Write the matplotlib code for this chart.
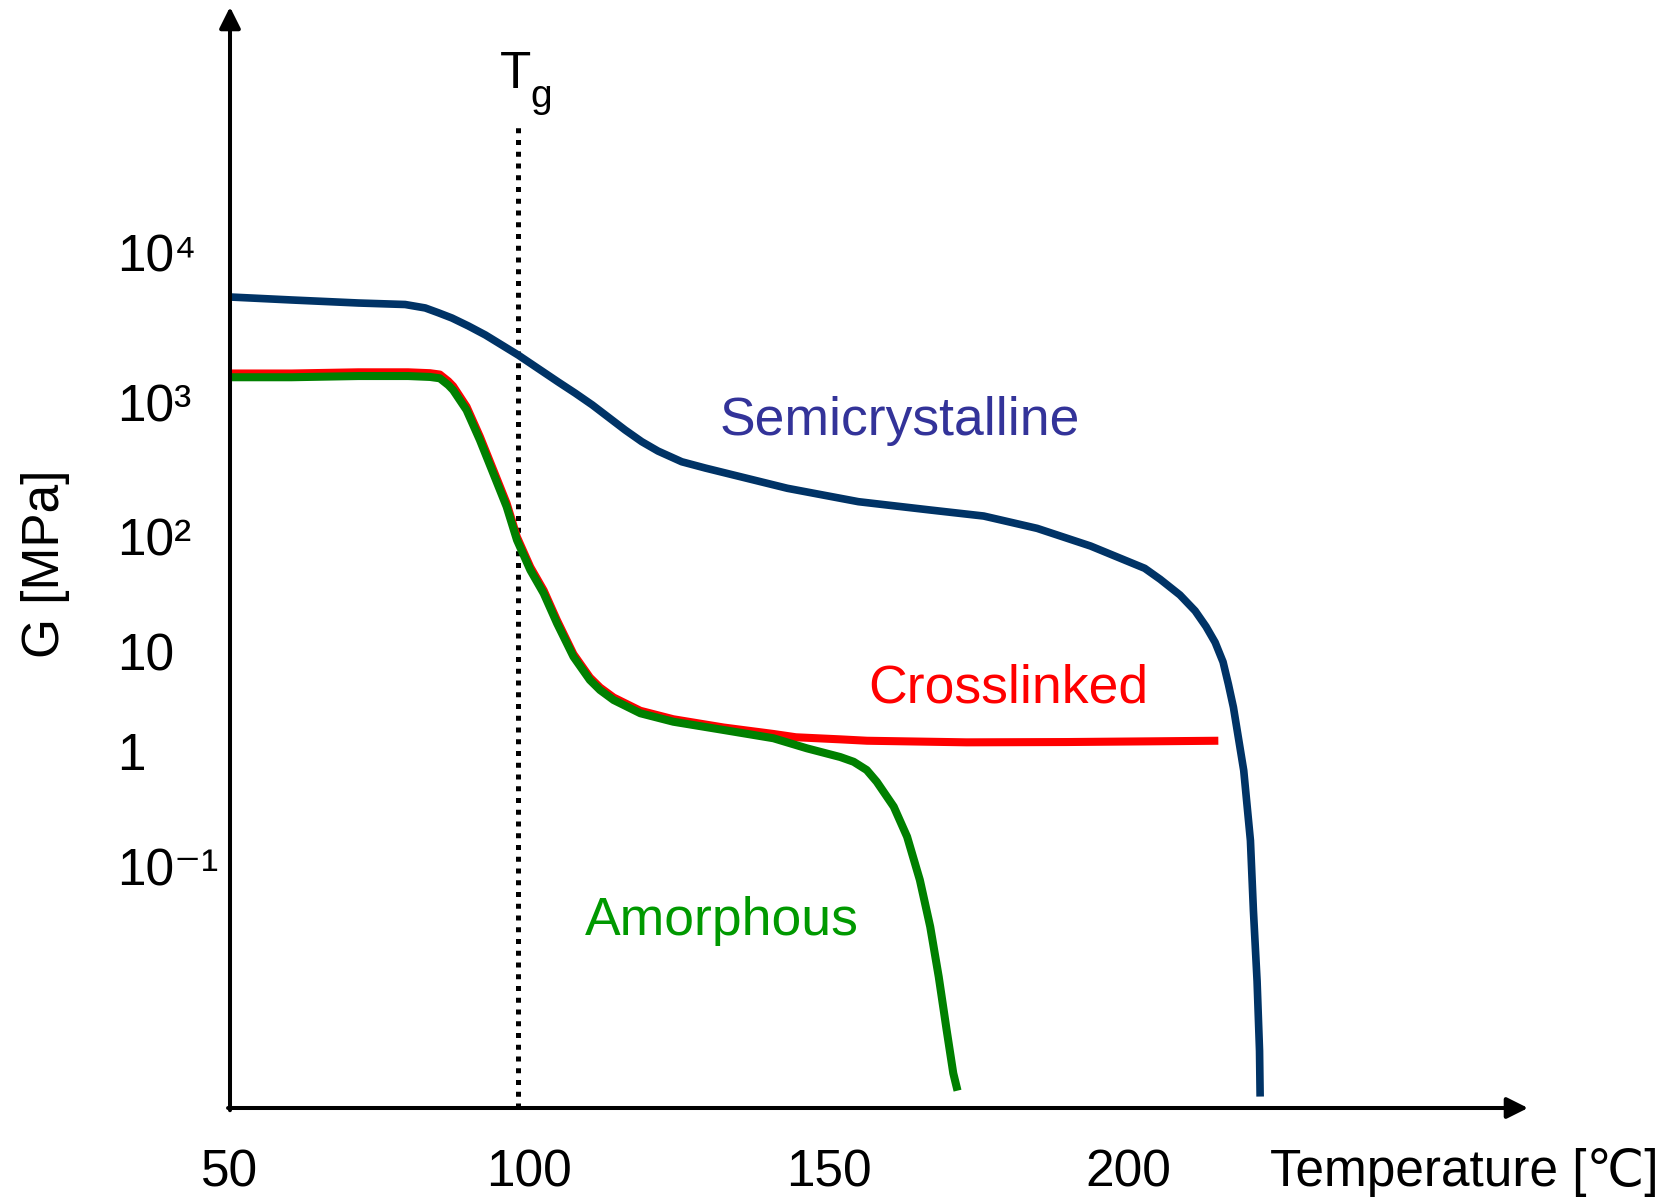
import numpy as np
import matplotlib
matplotlib.use("Agg")
import matplotlib.pyplot as plt

plt.rcParams.update({"font.family": ["Liberation Sans", "DejaVu Sans", "Noto Sans CJK JP"],
                     "mathtext.fontset": "custom",
                     "mathtext.rm": "Liberation Sans",
                     "mathtext.it": "Liberation Sans:italic"})

# temperature [C] and log10(G / MPa) for the three polymer classes
temp_semi = [50.0, 60.37, 71.43, 79.24, 82.59, 84.78, 87.05, 89.79, 92.63, 95.37, 98.11,
             104.81, 107.6, 110.49, 115.97, 118.74, 121.45, 125.42, 129.36, 143.05, 154.92,
             166.9, 175.83, 184.75, 193.68, 202.71, 205.29, 208.59, 211.13, 212.95, 214.47,
             215.79, 216.69, 217.52, 219.24, 220.36, 220.86, 221.47, 221.88, 221.98]
logg_semi = [3.70, 3.68, 3.66, 3.65, 3.627, 3.595, 3.56, 3.507, 3.447, 3.38, 3.313,
             3.133, 3.06, 2.978, 2.791, 2.704, 2.634, 2.554, 2.507, 2.356, 2.256,
             2.194, 2.149, 2.057, 1.913, 1.720, 1.625, 1.489, 1.351, 1.215, 1.078,
             0.894, 0.668, 0.439, -0.168, -0.772, -1.378, -1.983, -2.586, -2.979]

temp_xl = [50.0, 60.27, 71.43, 79.74, 83.39, 85.03, 86.45, 87.25, 89.49, 91.72, 93.95, 96.18,
           97.91, 100.14, 102.37, 104.6, 107.34, 110.08, 111.78, 114.04, 118.5, 124.0, 132.4,
           140.72, 144.47, 151.88, 156.35, 172.98, 189.73, 203.62, 215.0]
logg_xl = [3.19, 3.19, 3.198, 3.198, 3.192, 3.183, 3.138, 3.105, 2.965, 2.741, 2.493, 2.244,
           1.99, 1.73, 1.528, 1.268, 0.972, 0.738, 0.637, 0.537, 0.404, 0.319, 0.236,
           0.171, 0.138, 0.117, 0.103, 0.087, 0.09, 0.097, 0.103]

temp_amor = [50.0, 60.27, 71.43, 79.74, 83.39, 85.03, 86.45, 87.25, 89.49, 91.72, 93.95,
             96.18, 97.91, 100.14, 102.37, 104.6, 107.34, 110.08, 111.78, 114.04, 118.5,
             124.0, 132.4, 140.72, 146.3, 151.88, 154.12, 156.3, 157.97, 160.81, 163.04,
             165.17, 166.9, 168.32, 169.64, 170.75, 171.46]
logg_amor = [3.165, 3.165, 3.173, 3.173, 3.167, 3.158, 3.113, 3.08, 2.94, 2.716, 2.468,
             2.219, 1.965, 1.705, 1.503, 1.243, 0.947, 0.713, 0.612, 0.512, 0.379,
             0.294, 0.211, 0.128, 0.027, -0.052, -0.093, -0.164, -0.265, -0.48, -0.739,
             -1.112, -1.515, -1.946, -2.405, -2.778, -2.928]

TG = 98.1
x_ticks = [50, 100, 150, 200]
g_ticks = [1e-1, 1, 10, 1e2, 1e3, 1e4]
g_labels = ["10⁻¹", "1", "10", "10²", "10³", "10⁴"]

# the G axis is hand-spaced: decades are not equally tall
LOG_KNOTS = [-4, -1, 0, 1, 2, 3, 4, 7]
H_KNOTS = [-107, 241, 357, 456.6, 572, 706, 856, 1306]


def _fwd(g):
    return np.interp(np.log10(np.clip(g, 1e-12, None)), LOG_KNOTS, H_KNOTS)


def _inv(h):
    return 10 ** np.interp(h, H_KNOTS, LOG_KNOTS)


fig = plt.figure(figsize=(16.77, 11.97), dpi=100)
ax = fig.add_axes([230 / 1677, 1 - 1108 / 1197, 1298 / 1677, 1101 / 1197])
ax.set_yscale("function", functions=(_fwd, _inv))

ax.axvline(TG, ymin=0, ymax=0.895, color="black", lw=3.6,
           linestyle=(0, (1, 1.35)), dash_capstyle="butt")

line_kw = dict(solid_joinstyle="round", solid_capstyle="butt")
ax.plot(temp_semi, 10 ** np.array(logg_semi), color="#003366", lw=5.5, **line_kw)
ax.plot(temp_xl, 10 ** np.array(logg_xl), color="#ff0000", lw=5.8, **line_kw)
ax.plot(temp_amor, 10 ** np.array(logg_amor), color="#008000", lw=5.8, **line_kw)

ax.text(0.3775, 0.6236, "Semicrystalline", transform=ax.transAxes, fontsize=38.5,
        color="#333399", ha="left", va="center")
ax.text(0.4915, 0.3806, "Crosslinked", transform=ax.transAxes, fontsize=38.5,
        color="#ff0000", ha="left", va="center")
ax.text(0.2735, 0.1698, "Amorphous", transform=ax.transAxes, fontsize=38.5,
        color="#009900", ha="left", va="center")
ax.text(0.208, 0.9264, "T", transform=ax.transAxes, fontsize=37, ha="left", va="baseline")
ax.text(0.2315, 0.9095, "g", transform=ax.transAxes, fontsize=28, ha="left", va="baseline")

# axes drawn as arrows
for spine in ax.spines.values():
    spine.set_visible(False)
arrow = dict(arrowstyle="-|>", lw=2.9, color="black", mutation_scale=32,
             shrinkA=0, shrinkB=0)
ax.annotate("", xy=(1, 0), xytext=(-0.0015, 0), xycoords="axes fraction", arrowprops=arrow,
            annotation_clip=False)
ax.annotate("", xy=(0, 1), xytext=(0, -0.002), xycoords="axes fraction", arrowprops=arrow,
            annotation_clip=False)

ax.set_xticks(x_ticks)
ax.set_yticks(g_ticks, labels=g_labels)
ax.set_xlim(50, 266.7)
ax.set_ylim(_inv(0), _inv(1101))
ax.minorticks_off()
ax.tick_params(axis="x", length=0, pad=29, labelsize=37)
ax.tick_params(axis="y", length=0, pad=81, labelsize=37)
for lab in ax.get_yticklabels():
    lab.set_horizontalalignment("left")

fig.text(45 / 1677, 1 - 564 / 1197, "G [MPa]", rotation=90, fontsize=37,
         ha="center", va="center")
fig.text(1270 / 1677, 1 - 1186 / 1197, "Temperature [℃]", fontsize=37,
         ha="left", va="baseline")

fig.savefig("out.png", dpi=100)
